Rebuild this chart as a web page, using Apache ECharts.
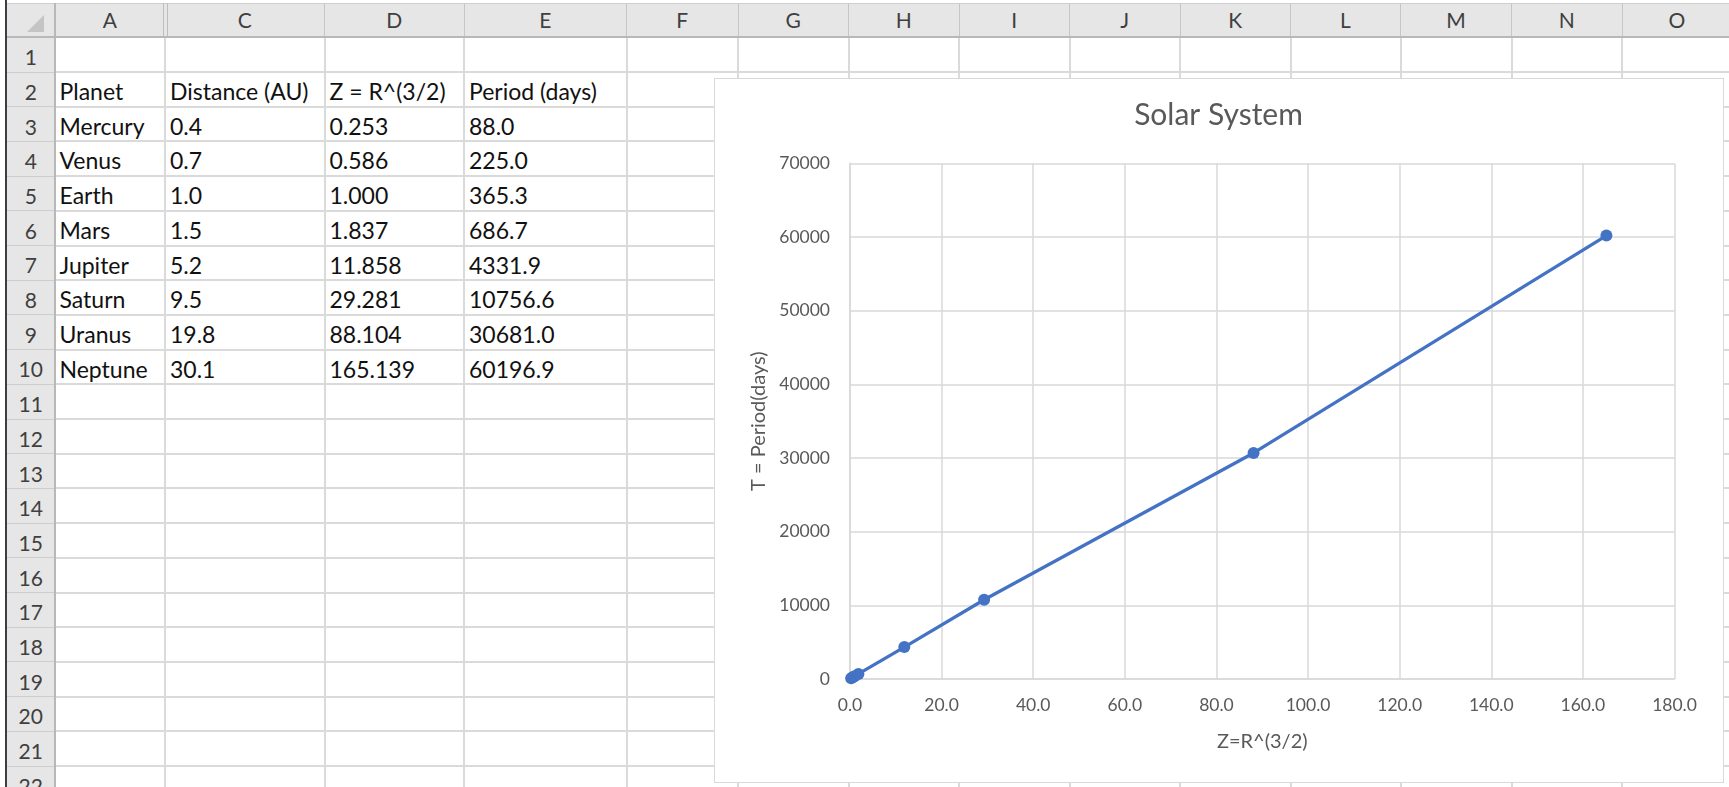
<!DOCTYPE html>
<html>
<head>
<meta charset="utf-8">
<title>Solar System</title>
<script src="https://cdn.jsdelivr.net/npm/echarts@6/dist/echarts.min.js"></script>
<style>
  html, body { margin: 0; padding: 0; width: 1729px; height: 787px; overflow: hidden; background: #fff; }
  #sheet { position: absolute; left: 0; top: 0; width: 1729px; height: 787px; font-family: Lato, "Noto Sans", sans-serif; }
  #sheet div { position: absolute; box-sizing: border-box; white-space: nowrap; }
  #chart { position: absolute; left: 714px; top: 78px; width: 1009px; height: 704px; background: #fff; z-index: 5; }
  #chartFrame { position: absolute; left: 714px; top: 78px; width: 1010px; height: 705px; box-sizing: border-box; border: 1px solid #d9d9d9; z-index: 6; pointer-events: none; }
</style>
</head>
<body>
<div id="sheet"></div>
<div id="chart"></div>
<div id="chartFrame"></div>
<script>
// ---- worksheet data ----
const planets = ['Mercury', 'Venus', 'Earth', 'Mars', 'Jupiter', 'Saturn', 'Uranus', 'Neptune'];
const distanceAU = [0.4, 0.7, 1.0, 1.5, 5.2, 9.5, 19.8, 30.1];
const zValues = [0.253, 0.586, 1.000, 1.837, 11.858, 29.281, 88.104, 165.139];
const periodDays = [88.0, 225.0, 365.3, 686.7, 4331.9, 10756.6, 30681.0, 60196.9];
const tableHeaders = ['Planet', 'Distance (AU)', 'Z = R^(3/2)', 'Period (days)'];
const columnLetters = ['A', 'C', 'D', 'E', 'F', 'G', 'H', 'I', 'J', 'K', 'L', 'M', 'N', 'O'];
const rowCount = 22;

// ---- chart axes ----
const xAxisMin = 0, xAxisMax = 180, xAxisStep = 20;
const yAxisMin = 0, yAxisMax = 70000, yAxisStep = 10000;
const chartTitle = 'Solar System';
const xAxisTitle = 'Z=R^(3/2)';
const yAxisTitle = 'T = Period(days)';

// ---- worksheet layout ----
const colEdges = [54.5, 165, 324.5, 464, 626.5, 738, 848.5, 959, 1069.5, 1180, 1290.5, 1400.5, 1511.5, 1622, 1732];
const headerTop = 3, headerBottom = 37.3, rowHeight = 34.7, rowHeadLeft = 7;
const sheet = document.getElementById('sheet');

function box(x, y, w, h, style, text) {
  const d = document.createElement('div');
  d.style.cssText = `left:${x}px;top:${y}px;width:${w}px;height:${h}px;${style || ''}`;
  if (text != null) d.textContent = text;
  sheet.appendChild(d);
  return d;
}
// place text so that its baseline sits at baselineY (Lato metrics)
function textAt(x, baselineY, w, size, align, color, text) {
  const L = 34;
  const top = baselineY - (L / 2 + 0.387 * size);
  return box(x, top, w, L, `font-size:${size}px;line-height:${L}px;text-align:${align};color:${color};`, text);
}
const rowBottom = n => headerBottom + rowHeight * n;

// window edge on the far left
box(5, 0, 1.5, 787, 'background:#3b3f45;');

// header bands
box(rowHeadLeft, headerTop, 1729 - rowHeadLeft, headerBottom - headerTop, 'background:#e6e6e6;border-top:1px solid #cfcfcf;');
box(rowHeadLeft, headerBottom, colEdges[0] - rowHeadLeft, 787 - headerBottom, 'background:#e6e6e6;');

// select-all triangle in the corner
box(27, 15, 17, 17, 'background:#c4c4c4;clip-path:polygon(100% 0,100% 100%,0 100%);');

// grid lines in the cell area
for (let n = 1; n <= rowCount; n++) {
  box(colEdges[0], rowBottom(n) - 1, 1729 - colEdges[0], 2, 'background:#dadada;');
  box(rowHeadLeft, rowBottom(n) - 0.5, colEdges[0] - rowHeadLeft, 1, 'background:#cdcdcd;');
}
colEdges.slice(1).forEach(x => box(x - 1, headerBottom, 2, 787 - headerBottom, 'background:#dadada;'));

// column header separators (hidden column B shows as a double line)
colEdges.slice(1).forEach((x, i) => {
  if (i === 0) {
    box(x - 2.5, headerTop, 1, headerBottom - headerTop, 'background:#bdbdbd;');
    box(x + 1.5, headerTop, 1, headerBottom - headerTop, 'background:#bdbdbd;');
  } else {
    box(x - 0.5, headerTop, 1, headerBottom - headerTop, 'background:#c6c6c6;');
  }
});
box(rowHeadLeft, headerBottom - 1, 1729 - rowHeadLeft, 2, 'background:#b8b8b8;');
box(colEdges[0] - 1, headerTop, 2, 787 - headerTop, 'background:#b8b8b8;');

// column letters
columnLetters.forEach((c, i) => {
  const x0 = colEdges[i], x1 = colEdges[i + 1];
  textAt(x0, 28.3, x1 - x0, 21, 'center', '#3f3f3f', c);
});
// row numbers
for (let n = 1; n <= rowCount; n++) {
  textAt(rowHeadLeft, rowBottom(n) - 6.7, colEdges[0] - rowHeadLeft, 21, 'center', '#3f3f3f', String(n));
}

// table contents: header in row 2, planets from row 3
const cellSize = 23, cellPad = 5;
tableHeaders.forEach((t, c) => textAt(colEdges[c] + cellPad, rowBottom(2) - 6.7, 200, cellSize, 'left', '#111', t));
planets.forEach((p, i) => {
  const b = rowBottom(3 + i) - 6.7;
  const cells = [p, distanceAU[i].toFixed(1), zValues[i].toFixed(3), periodDays[i].toFixed(1)];
  cells.forEach((t, c) => textAt(colEdges[c] + cellPad, b, 200, cellSize, 'left', '#111', t));
});

// ---- embedded scatter chart ----
const chart = echarts.init(document.getElementById('chart'), null, { renderer: 'canvas' });
const axisGrey = '#d9d9d9';
const labelGrey = '#595959';
chart.setOption({
  animation: false,
  backgroundColor: '#fff',
  textStyle: { fontFamily: 'Lato' },
  title: {
    text: chartTitle,
    left: 'center',
    top: 22,
    padding: 0,
    textStyle: { fontFamily: 'Lato', fontSize: 30, fontWeight: 'normal', color: labelGrey }
  },
  grid: { left: 136, top: 85.3, right: 48.5, bottom: 103, containLabel: false, outerBoundsMode: 'none' },
  xAxis: {
    type: 'value',
    min: xAxisMin, max: xAxisMax, interval: xAxisStep,
    name: xAxisTitle,
    nameLocation: 'middle',
    nameGap: 53,
    nameTextStyle: { fontFamily: 'Lato', fontSize: 20, color: labelGrey },
    axisLine: { show: true, onZero: false, lineStyle: { color: axisGrey, width: 1.5 } },
    axisTick: { show: false },
    axisLabel: { margin: 17, fontFamily: 'Lato', fontSize: 17.5, color: labelGrey, formatter: v => v.toFixed(1) },
    splitLine: { show: true, lineStyle: { color: axisGrey, width: 1.5 } }
  },
  yAxis: {
    type: 'value',
    min: yAxisMin, max: yAxisMax, interval: yAxisStep,
    name: yAxisTitle,
    nameLocation: 'middle',
    nameGap: 74,
    nameTextStyle: { fontFamily: 'Lato', fontSize: 20, color: labelGrey },
    axisLine: { show: true, onZero: false, lineStyle: { color: axisGrey, width: 1.5 } },
    axisTick: { show: false },
    axisLabel: { margin: 20, fontFamily: 'Lato', fontSize: 17.5, color: labelGrey, formatter: v => String(v) },
    splitLine: { show: true, lineStyle: { color: axisGrey, width: 1.5 } }
  },
  series: [{
    type: 'line',
    data: zValues.map((z, i) => [z, periodDays[i]]),
    symbol: 'circle',
    symbolSize: 12,
    showAllSymbol: true,
    lineStyle: { color: '#4472C4', width: 3.25 },
    itemStyle: { color: '#4472C4' },
    emphasis: { disabled: true }
  }]
});
</script>
</body>
</html>
